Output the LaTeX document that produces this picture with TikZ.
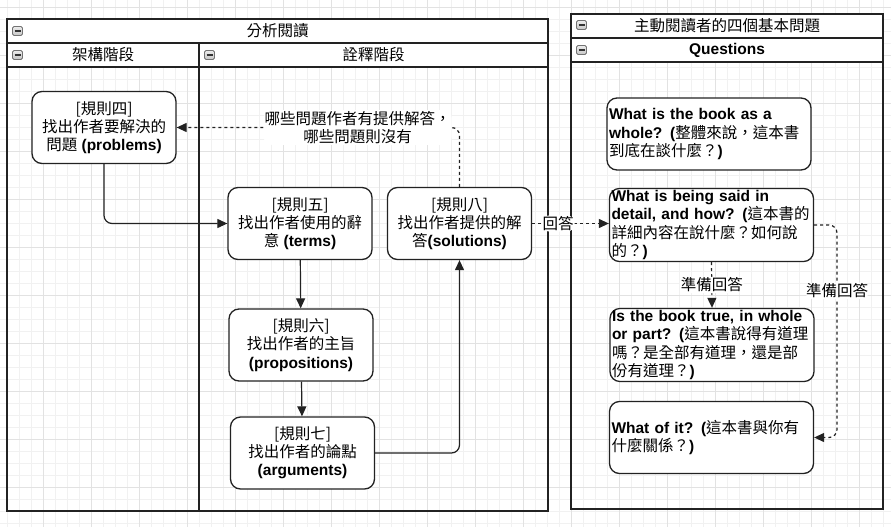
\documentclass[tikz,border=0pt]{standalone}
\usepackage{fontspec}
\setmainfont{Liberation Sans}
\newfontfamily\zhfont{Noto Sans CJK TC}
\newcommand\zh[1]{{\zhfont\mdseries #1}}
\newcommand\boxfont{\fontsize{15.5}{18.2}\selectfont}
\usetikzlibrary{arrows.meta}
\definecolor{gridminor}{HTML}{F1F1F1}
\definecolor{gridmajor}{HTML}{E2E2E2}
\definecolor{edge}{HTML}{222222}
\tikzset{
  pool/.style={draw=edge, line width=1.8pt},
  header/.style={draw=edge, line width=1.8pt, fill=white},
  rule/.style={draw=edge, line width=1.3pt, fill=white, rounded corners=10pt, align=center,
    minimum width=144pt, minimum height=72pt, inner sep=2pt, font=\boxfont\bfseries},
  quest/.style={rule, align=left, text width=200pt, inner xsep=2pt},
  flow/.style={draw=edge, line width=1.2pt, rounded corners=8pt, -{Triangle[length=10pt,width=9pt]}},
  answer/.style={flow, dash pattern=on 3pt off 3pt},
  tag/.style={fill=white, inner sep=1pt, align=center, font=\boxfont},
  lanetitle/.style={font=\boxfont\bfseries},
  minus/.style={draw=gray!90!black, line width=0.8pt, top color=gray!15, bottom color=gray!45,
    rounded corners=1.5pt, minimum width=10pt, minimum height=9pt, inner sep=0pt},
}
\begin{document}
\begin{tikzpicture}[x=1pt,y=-1pt]
    \useasboundingbox (0,0) rectangle (891,527);
    \fill[white] (0,0) rectangle (891,527);
    \foreach \x in {7,19,...,883} \draw[gridminor, line width=0.8pt] (\x,0) -- (\x,527);
    \foreach \y in {7,19,...,523} \draw[gridminor, line width=0.8pt] (0,\y) -- (891,\y);
    \foreach \x in {43,91,...,859} \draw[gridmajor, line width=0.8pt] (\x,0) -- (\x,527);
    \foreach \y in {7,55,...,523} \draw[gridmajor, line width=0.8pt] (0,\y) -- (891,\y);

    % Analysis pool.
    \draw[pool] (7,19) rectangle (548,511);
    \draw[header] (7,19) rectangle (548,43);
    \draw[header] (7,43) rectangle (548,67);
    \draw[pool] (199,43) -- (199,511);
    \node[lanetitle] (analysis) at (277.5,31) {\zh{分析閱讀}};
    \node[lanetitle] (structure) at (103,55) {\zh{架構階段}};
    \node[lanetitle] (interpret) at (373.5,55) {\zh{詮釋階段}};
    \node[minus] (m1) at (17.5,31) {\color{black!80}\rule{6pt}{1.4pt}};
    \node[minus] (m2) at (17.5,55) {\color{black!80}\rule{6pt}{1.4pt}};
    \node[minus] (m3) at (209.5,55) {\color{black!80}\rule{6pt}{1.4pt}};

    % Questions pool.
    \draw[pool] (571,14) rectangle (883,509);
    \draw[header] (571,14) rectangle (883,38);
    \draw[header] (571,38) rectangle (883,62);
    \node[lanetitle] (reader) at (727,26) {\zh{主動閱讀者的四個基本問題}};
    \node[lanetitle] (questions) at (727,50) {Questions};
    \node[minus] (m4) at (581.5,25) {\color{black!80}\rule{6pt}{1.4pt}};
    \node[minus] (m5) at (581.5,50) {\color{black!80}\rule{6pt}{1.4pt}};

    % Rules.
    \node[rule] (R4) at (104,127.5) {\zh{[規則四]}\\\zh{找出作者要解決的}\\\zh{問題} (problems)};
    \node[rule] (R5) at (300,223.5) {\zh{[規則五]}\\\zh{找出作者使用的辭}\\\zh{意} (terms)};
    \node[rule] (R6) at (301,345) {\zh{[規則六]}\\\zh{找出作者的主旨}\\(propositions)};
    \node[rule] (R7) at (302.5,453) {\zh{[規則七]}\\\zh{找出作者的論點}\\(arguments)};
    \node[rule] (R8) at (459.5,223.5) {\zh{[規則八]}\\\zh{找出作者提供的解}\\\zh{答}(solutions)};

    % Questions.
    \node[quest] (Q1) at (709,134) {What is the book as a\\whole? (\zh{整體來說，這本書}\\\zh{到底在談什麼？})};
    \node[quest] (Q2) at (711.5,225) {What is being said in\\detail, and how? (\zh{這本書的}\\\zh{詳細內容在說什麼？如何說}\\\zh{的？})};
    \node[quest] (Q3) at (712,345) {Is the book true, in whole\\or part? (\zh{這本書說得有道理}\\\zh{嗎？是全部有道理，還是部}\\\zh{份有道理？})};
    \node[quest] (Q4) at (711.5,437.5) {What of it? (\zh{這本書與你有}\\\zh{什麼關係？})};
    \coordinate (bend) at (837,437.5);

    % Connectors.
    \draw[flow] (R4.south) |- (R5.west);
    \draw[flow] (R5) -- (R6);
    \draw[flow] (R6) -- (R7);
    \draw[flow] (R7.east) -| (R8.south);
    \draw[answer] (R8.north) |- node[tag, pos=0.68] {\zh{哪些問題作者有提供解答，}\\\zh{哪些問題則沒有}} (R4.east);
    \draw[answer] (R8.east) -- node[tag, pos=0.34] {\zh{回答}} (R8.east -| Q2.west);
    \draw[answer] (Q2.south) -- node[tag] {\zh{準備回答}} (Q3.north);
    \draw[answer] (Q2.east) -| node[tag, pos=0.655] {\zh{準備回答}} (bend) -- (Q4.east);
\end{tikzpicture}
\end{document}
